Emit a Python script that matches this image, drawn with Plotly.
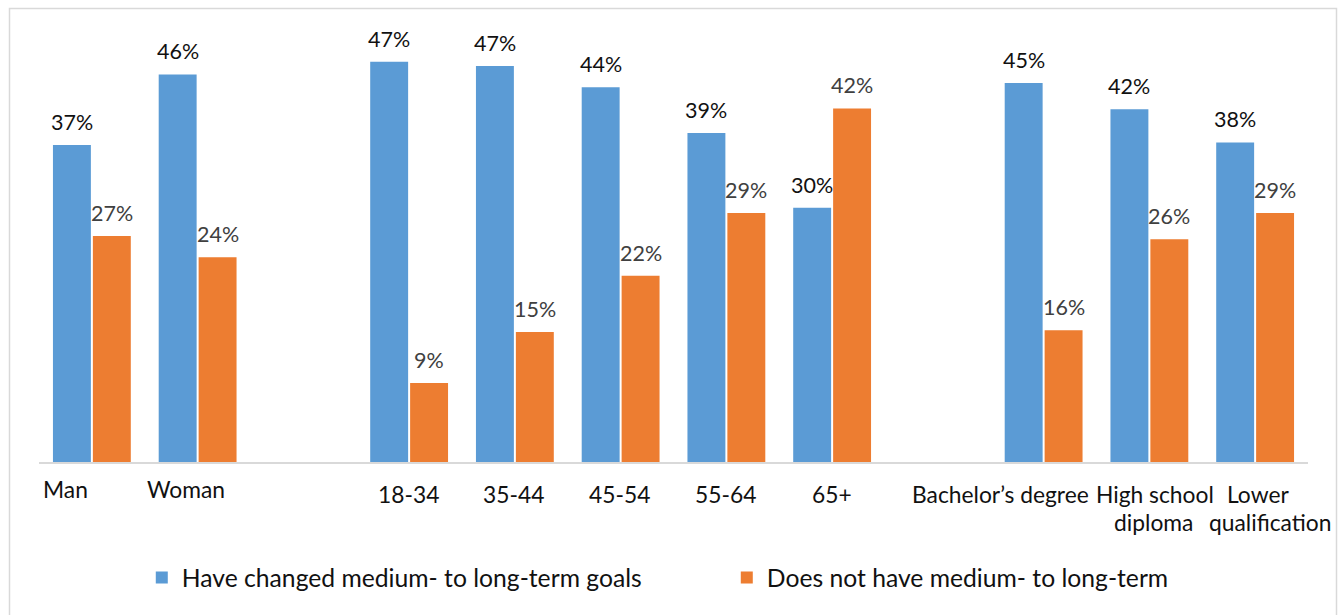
import plotly.graph_objects as go

categories = ["Man", "Woman", "gap1", "18-34", "35-44", "45-54", "55-64", "65+",
              "gap2", "Bachelor’s degree", "High school diploma", "Lower qualification"]
tick_labels = ["Man", "Woman", "", "18-34", "35-44", "45-54", "55-64", "65+",
               "", "Bachelor’s degree", "High school<br>diploma", "Lower<br>qualification"]
changed_goals = [37.3, 45.6, None, 47.1, 46.6, 44.1, 38.7, 29.9, None, 44.6, 41.5, 37.6]
no_goals = [26.6, 24.1, None, 9.3, 15.3, 21.9, 29.3, 41.6, None, 15.5, 26.2, 29.3]
series_names = ["Have changed medium- to long-term goals", "Does not have medium- to long-term"]

# style-only lists (per label line: xshift; per label: yshift of first line)
label_xshift = [[-26], [-12], [], [-1], [-1], [-1], [-1], [0], [], [-43], [6, 4], [3, 15]]
label_yshift = [-11, -11, 0, -16, -16, -16, -16, -16, 0, -16, -16, -16]
LINE_STEP = 27.5

BLUE = "#5B9BD5"
ORANGE = "#ED7D31"
FONT = "Lato"

fig = go.Figure()
fig.add_trace(go.Bar(x=categories, y=changed_goals, name=series_names[0],
                     marker=dict(color=BLUE, line=dict(width=0))))
fig.add_trace(go.Bar(x=categories, y=no_goals, name=series_names[1],
                     marker=dict(color=ORANGE, line=dict(width=0))))

annotations = []
for cat, v in zip(categories, changed_goals):
    if v is None:
        continue
    annotations.append(dict(x=cat, y=v, xref="x", yref="y", text=f"{round(v)}%",
                            showarrow=False, xshift=-20, yshift=8, yanchor="bottom",
                            font=dict(family=FONT, size=21.5, color="#111111")))
for cat, v in zip(categories, no_goals):
    if v is None:
        continue
    annotations.append(dict(x=cat, y=v, xref="x", yref="y", text=f"{round(v)}%",
                            showarrow=False, xshift=20, yshift=8, yanchor="bottom",
                            font=dict(family=FONT, size=21.5, color="#404040")))
for cat, lab, xss, ys in zip(categories, tick_labels, label_xshift, label_yshift):
    if not lab:
        continue
    for i, (line, xs) in enumerate(zip(lab.split("<br>"), xss)):
        annotations.append(dict(x=cat, y=0, xref="x", yref="paper", text=line,
                                showarrow=False, xshift=xs, yshift=ys - i * LINE_STEP,
                                yanchor="top",
                                font=dict(family=FONT, size=22.8, color="#111111")))

fig.update_layout(
    width=1338, height=615,
    margin=dict(l=39, r=30, t=37, b=153),
    paper_bgcolor="white", plot_bgcolor="white",
    barmode="group", bargap=0.245, bargroupgap=0.05,
    font=dict(family=FONT, size=22, color="#111111"),
    showlegend=True,
    legend=dict(orientation="h", x=0.081, xanchor="left", y=-0.273, yanchor="middle",
                entrywidth=540, entrywidthmode="pixels",
                font=dict(family=FONT, size=24.7, color="#111111")),
    annotations=annotations,
    shapes=[dict(type="rect", xref="paper", yref="paper",
                 x0=(9.5 - 39) / 1269, x1=(1336.5 - 39) / 1269,
                 y0=-0.45, y1=(462 - 8.5) / 425,
                 line=dict(color="#D9D9D9", width=1.5), fillcolor="rgba(0,0,0,0)",
                 layer="below")],
)
fig.update_xaxes(range=[-0.5, len(categories) - 0.5], autorange=False,
                 showline=True, linecolor="#D9D9D9", linewidth=2, showticklabels=False,
                 ticks="", showgrid=False, zeroline=False)
fig.update_yaxes(range=[0, 50], autorange=False, showline=False, showticklabels=False,
                 ticks="", showgrid=False, zeroline=False)

fig.write_html("out.html")
